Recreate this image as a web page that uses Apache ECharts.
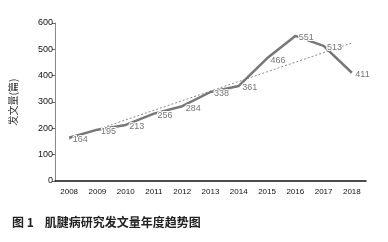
<!DOCTYPE html>
<html>
<head>
<meta charset="utf-8">
<script src="https://cdn.jsdelivr.net/npm/echarts@6/dist/echarts.min.js"></script>
<style>
  html, body { margin: 0; padding: 0; background: #fff; }
  #main { width: 388px; height: 242px; }
</style>
</head>
<body>
<div id="main"></div>
<script>
    // 肌腱病研究发文量年度趋势
    var years = ['2008', '2009', '2010', '2011', '2012', '2013', '2014', '2015', '2016', '2017', '2018'];
    var papers = [164, 195, 213, 256, 284, 338, 361, 466, 551, 513, 411];
    // 趋势线两端
    var trendYears = ['2008', '2018'];
    var trendValues = [159, 524];
    var yTicks = [0, 100, 200, 300, 400, 500, 600];

    var chart = echarts.init(document.getElementById('main'));

    var option = {
        animation: false,
        title: {
            text: '图 1    肌腱病研究发文量年度趋势图',
            left: 7,
            top: 211,
            textStyle: {
                fontFamily: 'Noto Sans CJK SC',
                fontSize: 12,
                fontWeight: 'bold',
                color: '#222'
            }
        },
        grid: {
            left: 53,
            right: 22,
            top: 23,
            bottom: 61
        },
        xAxis: {
            type: 'category',
            data: years,
            boundaryGap: true,
            axisLine: { lineStyle: { color: '#111', width: 1.5 } },
            axisTick: { show: false },
            axisLabel: {
                fontFamily: 'Liberation Sans',
                fontSize: 8,
                color: '#111',
                margin: 7
            }
        },
        yAxis: {
            type: 'value',
            min: yTicks[0],
            max: yTicks[yTicks.length - 1],
            interval: 100,
            name: '发文量(篇)',
            nameLocation: 'middle',
            nameGap: 37,
            nameTextStyle: {
                fontFamily: 'Noto Sans CJK SC',
                fontSize: 10,
                color: '#333'
            },
            splitLine: { show: false },
            axisLine: { show: true, lineStyle: { color: '#888' } },
            axisTick: { show: true, length: 3, lineStyle: { color: '#666' } },
            axisLabel: {
                fontFamily: 'Liberation Sans',
                fontSize: 9,
                color: '#111',
                margin: 2
            }
        },
        series: [
            {
                name: '发文量',
                type: 'line',
                data: papers,
                symbol: 'circle',
                symbolSize: 1,
                showSymbol: true,
                itemStyle: { color: '#777', opacity: 0 },
                lineStyle: { color: '#777', width: 2.5 },
                label: {
                    show: true,
                    position: 'right',
                    distance: 3,
                    offset: [0, 2],
                    fontFamily: 'Liberation Sans',
                    fontSize: 9,
                    color: '#777',
                    opacity: 1,
                    textBorderColor: '#fff',
                    textBorderWidth: 2
                },
                z: 3
            },
            {
                name: '趋势线',
                type: 'line',
                data: trendYears.map(function (y, i) { return [y, trendValues[i]]; }),
                symbol: 'none',
                lineStyle: { color: '#888', width: 1, type: [2, 2] },
                z: 2
            }
        ]
    };

    chart.setOption(option);
</script>
</body>
</html>
